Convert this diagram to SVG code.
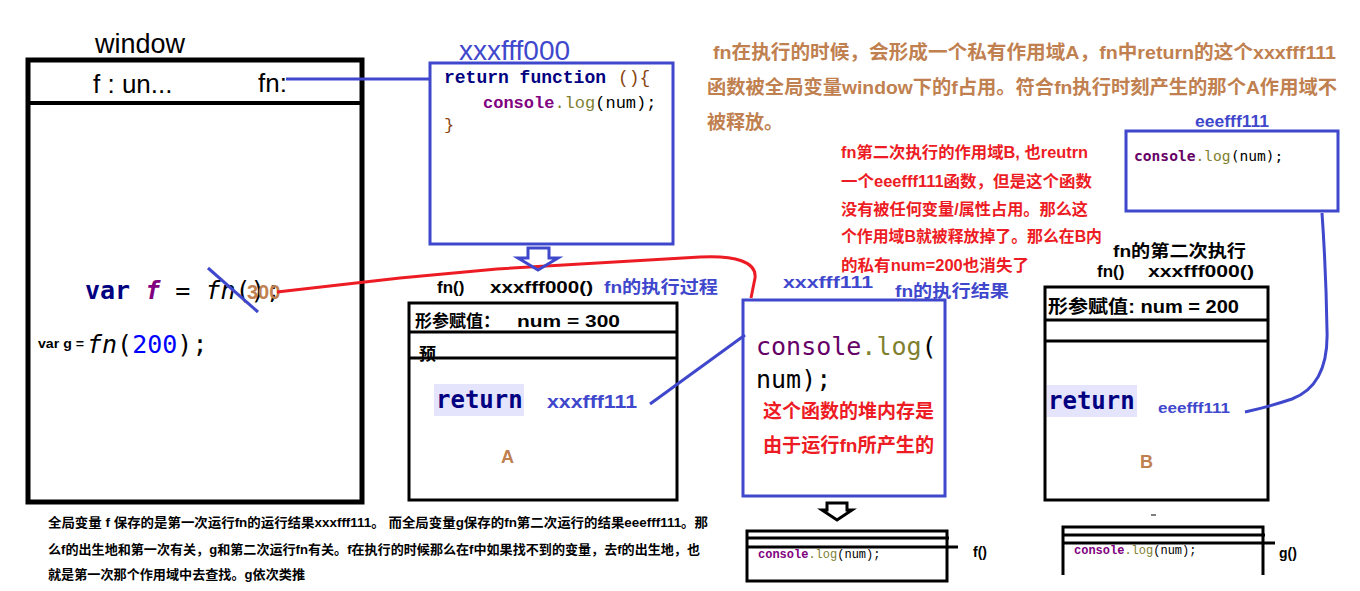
<svg xmlns="http://www.w3.org/2000/svg" width="1360" height="591" viewBox="0 0 1360 591">
<style>
.bk{fill:none;stroke:#000;stroke-width:3}
.bl{fill:none;stroke:#3f48cc;stroke-width:3}
.rd{fill:none;stroke:#ed1c24;stroke-width:3}
.s{font-family:"Liberation Sans","Noto Sans CJK SC",sans-serif}
.c{font-family:"Liberation Sans","Noto Sans CJK SC",sans-serif;font-weight:bold}
.m{font-family:"DejaVu Sans Mono","Liberation Mono",monospace}
.cm{font-family:"Liberation Mono","DejaVu Sans Mono",monospace}
.blue{fill:#3f48cc}
.brown{fill:#c0804f}
.red{fill:#ed1c24}
.kw{fill:#000080;font-weight:bold}
.pu{fill:#800080;font-weight:bold}
.ol{fill:#808030}
.hl{fill:#e4e4fc}
</style>
<rect width="1360" height="591" fill="#fff"/>

<g id="window">
<text class="s" x="95" y="53" font-size="27">window</text>
<rect x="28" y="60" width="334" height="442" fill="none" stroke="#000" stroke-width="5"/>
<line x1="28" y1="103" x2="362" y2="103" stroke="#000" stroke-width="4"/>
<text class="s" x="93" y="93" font-size="26">f : un...</text>
<text class="s" x="258" y="92" font-size="26">fn:</text>
<text class="m" x="85" y="299" font-size="25"><tspan class="kw">var</tspan> <tspan class="pu" font-style="italic">f</tspan> = <tspan font-style="italic">fn</tspan>();</text>
<text class="c brown" x="247" y="299" font-size="20">300</text>
<text class="c" x="38" y="348" font-size="13" textLength="46" lengthAdjust="spacingAndGlyphs">var g =</text>
<text class="m" x="87" y="353" font-size="25"><tspan font-style="italic">fn</tspan>(<tspan fill="#0000ff">200</tspan>);</text>
</g>

<g id="code-xxxfff000">
<text class="s blue" x="459" y="60" font-size="28">xxxfff000</text>
<rect x="430" y="63" width="243" height="181" class="bl"/>
<text class="cm" x="444" y="83" font-size="18"><tspan class="kw">return function</tspan></text>
<text class="cm" x="618" y="83" font-size="18" fill="#8b4513">(){</text>
<text class="cm" x="483" y="108" font-size="17"><tspan class="pu">console</tspan><tspan class="ol">.log</tspan>(num);</text>
<text class="cm" x="444" y="130" font-size="17" fill="#8b4513">}</text>
</g>

<g id="scope-A">
<text class="c" x="437" y="293" font-size="17">fn()</text>
<text class="c" x="490" y="293" font-size="17" textLength="103" lengthAdjust="spacingAndGlyphs">xxxfff000()</text>
<text class="c blue" x="604" y="293" font-size="17" textLength="114" lengthAdjust="spacingAndGlyphs">fn的执行过程</text>
<rect x="409" y="303" width="268" height="197" class="bk"/>
<text class="c" x="415" y="327" font-size="17">形参赋值：</text>
<text class="c" x="517" y="327" font-size="17" textLength="103" lengthAdjust="spacingAndGlyphs">num = 300</text>
<text class="c" x="419" y="360" font-size="17">预</text>
<line x1="409" y1="332" x2="677" y2="332" stroke="#000" stroke-width="3"/>
<line x1="409" y1="358" x2="677" y2="358" stroke="#000" stroke-width="3"/>
<rect x="434" y="384" width="90" height="32" class="hl"/>
<text class="m kw" x="436" y="408" font-size="24">return</text>
<text class="c blue" x="547" y="408" font-size="18" textLength="90" lengthAdjust="spacingAndGlyphs">xxxfff111</text>
<text class="c brown" x="501" y="463" font-size="18">A</text>
</g>

<g id="func-xxxfff111">
<text class="c blue" x="783" y="288" font-size="17" textLength="90" lengthAdjust="spacingAndGlyphs">xxxfff111</text>
<text class="c blue" x="895" y="297" font-size="17" textLength="114" lengthAdjust="spacingAndGlyphs">fn的执行结果</text>
<rect x="743" y="300" width="202" height="196" class="bl"/>
<text class="m" x="756" y="355" font-size="25"><tspan fill="#660066">console</tspan><tspan class="ol">.log</tspan>(</text>
<text class="m" x="756" y="388" font-size="25">num);</text>
<text class="c red" x="763" y="418" font-size="19" textLength="171" lengthAdjust="spacingAndGlyphs">这个函数的堆内存是</text>
<text class="c red" x="763" y="452" font-size="19" textLength="171" lengthAdjust="spacingAndGlyphs">由于运行fn所产生的</text>
</g>

<g id="scope-B">
<text class="c" x="1113" y="257" font-size="17" textLength="133" lengthAdjust="spacingAndGlyphs">fn的第二次执行</text>
<text class="c" x="1097" y="277" font-size="17">fn()</text>
<text class="c" x="1148" y="277" font-size="17" textLength="106" lengthAdjust="spacingAndGlyphs">xxxfff000()</text>
<rect x="1045" y="287" width="223" height="213" class="bk"/>
<text class="c" x="1048" y="313" font-size="18" textLength="191" lengthAdjust="spacingAndGlyphs">形参赋值: num = 200</text>
<line x1="1045" y1="320" x2="1268" y2="320" stroke="#000" stroke-width="3"/>
<line x1="1045" y1="341" x2="1268" y2="341" stroke="#000" stroke-width="3"/>
<rect x="1047" y="385" width="90" height="32" class="hl"/>
<text class="m kw" x="1048" y="409" font-size="24">return</text>
<text class="c blue" x="1158" y="413" font-size="15" textLength="72" lengthAdjust="spacingAndGlyphs">eeefff111</text>
<text class="c brown" x="1140" y="468" font-size="18">B</text>
</g>

<g id="func-eeefff111">
<text class="c blue" x="1195" y="127" font-size="16" textLength="74" lengthAdjust="spacingAndGlyphs">eeefff111</text>
<rect x="1126" y="131" width="212" height="80" class="bl"/>
<text class="m" x="1134" y="161" font-size="14.6"><tspan fill="#660066" font-weight="bold">console</tspan><tspan class="ol">.log</tspan>(num);</text>
</g>

<g id="note-top" class="c brown" font-size="19">
<text x="713" y="59" textLength="623" lengthAdjust="spacingAndGlyphs">fn在执行的时候，会形成一个私有作用域A，fn中return的这个xxxfff111</text>
<text x="707" y="94" textLength="630" lengthAdjust="spacingAndGlyphs">函数被全局变量window下的f占用。符合fn执行时刻产生的那个A作用域不</text>
<text x="707" y="129">被释放。</text>
</g>

<g id="note-red" class="c red" font-size="16">
<text x="841" y="158" textLength="247" lengthAdjust="spacingAndGlyphs">fn第二次执行的作用域B, 也reutrn</text>
<text x="841" y="187" textLength="251" lengthAdjust="spacingAndGlyphs">一个eeefff111函数，但是这个函数</text>
<text x="841" y="215" textLength="247" lengthAdjust="spacingAndGlyphs">没有被任何变量/属性占用。那么这</text>
<text x="841" y="242" textLength="261" lengthAdjust="spacingAndGlyphs">个作用域B就被释放掉了。那么在B内</text>
<text x="841" y="271" textLength="188" lengthAdjust="spacingAndGlyphs">的私有num=200也消失了</text>
</g>

<g id="note-bottom" class="c" font-size="13">
<text x="48" y="527" textLength="660" lengthAdjust="spacingAndGlyphs">全局变量 f 保存的是第一次运行fn的运行结果xxxfff111。 而全局变量g保存的fn第二次运行的结果eeefff111。那</text>
<text x="48" y="554" textLength="652" lengthAdjust="spacingAndGlyphs">么f的出生地和第一次有关，g和第二次运行fn有关。f在执行的时候那么在f中如果找不到的变量，去f的出生地，也</text>
<text x="48" y="579" textLength="257" lengthAdjust="spacingAndGlyphs">就是第一次那个作用域中去查找。g依次类推</text>
</g>

<g id="heap-f">
<rect x="747" y="531" width="200" height="50" class="bk"/>
<line x1="747" y1="538" x2="949" y2="538" stroke="#000" stroke-width="3"/>
<line x1="747" y1="547" x2="958" y2="547" stroke="#000" stroke-width="3"/>
<text class="cm" x="758" y="558" font-size="12"><tspan class="pu">console</tspan><tspan class="ol">.log</tspan>(num);</text>
<text class="c" x="973" y="557" font-size="14">f()</text>
</g>

<g id="heap-g">
<path d="M1063,575 V527 H1263 V575" class="bk"/>
<line x1="1063" y1="535" x2="1265" y2="535" stroke="#000" stroke-width="3"/>
<line x1="1063" y1="543" x2="1275" y2="543" stroke="#000" stroke-width="3"/>
<line x1="1151" y1="515" x2="1156" y2="515" stroke="#000" stroke-width="1"/>
<text class="cm" x="1074" y="554" font-size="12"><tspan class="pu">console</tspan><tspan class="ol">.log</tspan>(num);</text>
<text class="c" x="1279" y="558" font-size="14">g()</text>
</g>

<g id="connectors">
<line x1="286" y1="79" x2="430" y2="79" class="bl"/>
<line x1="208" y1="268" x2="258" y2="312" class="bl"/>
<path d="M277,292 L400,278 L497,269 L700,257 C735,255 757,262 755,278 L751,298" class="rd"/>
<line x1="650" y1="404" x2="745" y2="335" class="bl"/>
<path d="M1322,213 Q1326,270 1327,330 Q1329,385 1292,399 Q1268,407 1245,412" class="bl"/>
<path d="M528,248 H549 V258 H558 L538,270 L518,258 H528 Z" class="bl"/>
<path d="M827,503 H847 V510 H852 L837,520 L822,510 H827 Z" class="bk"/>
</g>
</svg>
